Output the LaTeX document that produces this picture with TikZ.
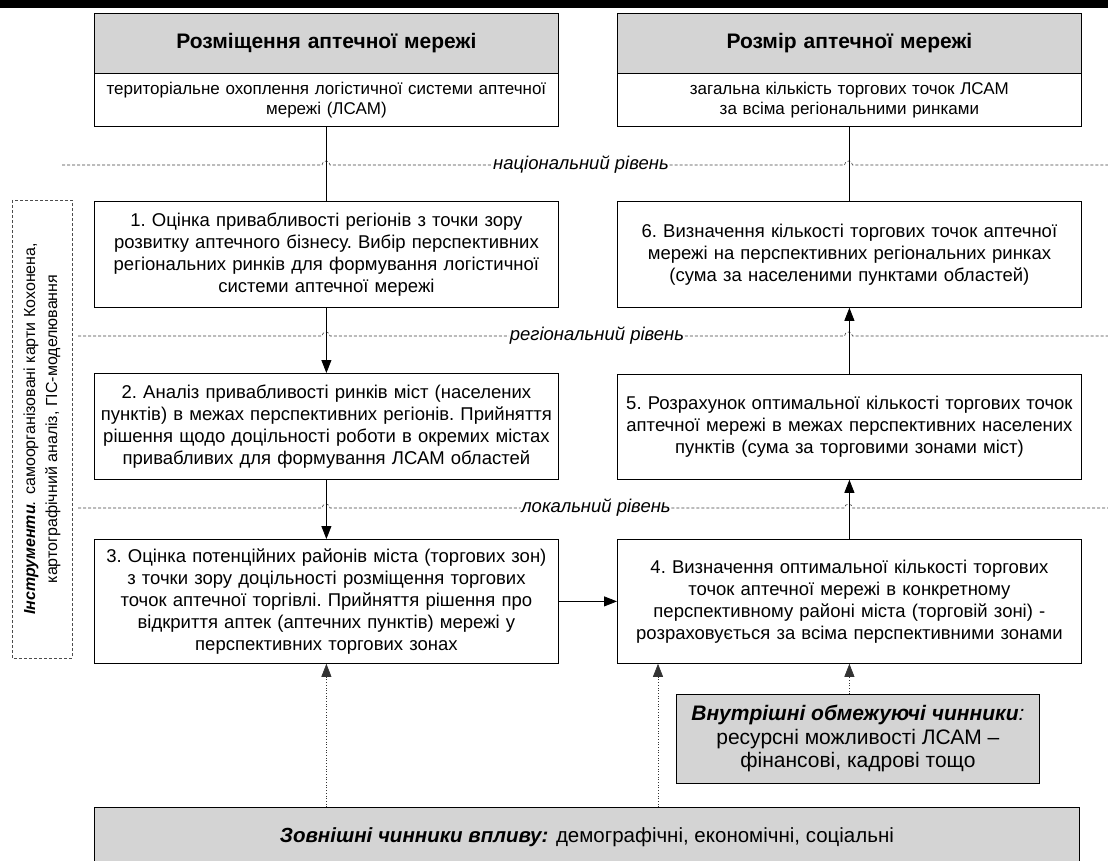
\documentclass[tikz,border=0pt]{standalone}
\usepackage{fontspec}
\setmainfont{Liberation Sans}
\usetikzlibrary{arrows.meta,calc}
\tikzset{
  stepbox/.style={draw, line width=0.8pt, fill=white, minimum width=464pt, align=center,
    text width=462pt, inner sep=0pt, anchor=north west, font=\fontsize{18.5}{22}\selectfont\frenchspacing},
  hdrbox/.style={stepbox, fill=black!17, font=\fontsize{21}{24}\selectfont\bfseries},
  subbox/.style={stepbox, font=\fontsize{17}{19.5}\selectfont},
  greybox/.style={draw, line width=0.8pt, fill=black!17, align=center, inner sep=0pt, anchor=north west,
    font=\fontsize{19.5}{22.5}\selectfont},
  lvl/.style={dash pattern=on 3pt off 2pt, black!75, line width=0.6pt},
  lvllab/.style={font=\fontsize{18.5}{20}\selectfont\itshape, inner sep=0.5pt},
  conn/.style={line width=0.8pt},
  arr/.style={line width=0.8pt, -{Triangle[length=13pt,width=10pt]}},
  dotarr/.style={dotted, black!80, line width=0.7pt, -{Triangle[length=13pt,width=10pt]}},
}
\begin{document}
\begin{tikzpicture}[x=1pt,y=-1pt]
\useasboundingbox (0,0) rectangle (1108,861);
\fill[black] (0,0) rectangle (1108,8);

% headers
\node[hdrbox, minimum height=60pt] (hL) at (94,13) {Розміщення аптечної мережі};
\node[subbox, minimum height=53pt] (sL) at (94,73) {територіальне охоплення логістичної системи аптечної\\мережі (ЛСАМ)};
\node[hdrbox, minimum height=60pt] (hR) at (617,13) {Розмір аптечної мережі};
\node[subbox, minimum height=53pt] (sR) at (617,73) {загальна кількість торгових точок ЛСАМ\\за всіма регіональними ринками};

% steps
\node[stepbox, minimum height=106pt] (b1) at (94,201) {1. Оцінка привабливості регіонів з точки зору\\розвитку аптечного бізнесу. Вибір перспективних\\регіональних ринків для формування логістичної\\системи аптечної мережі};
\node[stepbox, minimum height=106pt] (b6) at (617,201) {6. Визначення кількості торгових точок аптечної\\мережі на перспективних регіональних ринках\\(сума за населеними пунктами областей)};
\node[stepbox, minimum height=106pt] (b2) at (94,373) {2. Аналіз привабливості ринків міст (населених\\пунктів) в межах перспективних регіонів. Прийняття\\рішення щодо доцільності роботи в окремих містах\\привабливих для формування ЛСАМ областей};
\node[stepbox, minimum height=105pt] (b5) at (617,374) {5. Розрахунок оптимальної кількості торгових точок\\аптечної мережі в межах перспективних населених\\пунктів (сума за торговими зонами міст)};
\node[stepbox, minimum height=124pt] (b3) at (94,539) {3. Оцінка потенційних районів міста (торгових зон)\\з точки зору доцільності розміщення торгових\\точок аптечної торгівлі. Прийняття рішення про\\відкриття аптек (аптечних пунктів) мережі у\\перспективних торгових зонах};
\node[stepbox, minimum height=124pt] (b4) at (617,539) {4. Визначення оптимальної кількості торгових\\точок аптечної мережі в конкретному\\перспективному районі міста (торговій зоні) -\\розраховується за всіма перспективними зонами};

% factor boxes
\node[greybox, minimum width=363pt, minimum height=89pt, font=\fontsize{21}{23.5}\selectfont] (int) at (676,694) {\textbf{\textit{Внутрішні обмежуючі чинники}}\textit{:}\\ресурсні можливості ЛСАМ –\\фінансові, кадрові тощо};
\node[greybox, minimum width=985pt, minimum height=60pt, font=\fontsize{20.5}{22}\selectfont] (ext) at (94,807) {\textbf{\textit{Зовнішні чинники впливу:}} демографічні, економічні, соціальні};

% tools box
\node[draw, densely dashed, line width=0.6pt, black!70, text=black, rotate=90, minimum width=458pt, minimum height=60pt,
  align=center, inner sep=0pt, font=\fontsize{16}{22}\selectfont] (tools) at (42,429)
  {\textbf{\textit{Інструменти}}\textit{.} самоорганізовані карти Кохонена,\\картографічний аналіз, ГІС-моделювання};

% level lines
\node[lvllab] (nat) at (581,165) {національний рівень};
\node[lvllab] (reg) at (597,336) {регіональний рівень};
\node[lvllab] (loc) at (596,508) {локальний рівень};
\draw[lvl] (62,165) -- (322,165) arc[start angle=180,end angle=360,radius=4] -- (nat.west);
\draw[lvl] (nat.east) -- (844.5,165) arc[start angle=180,end angle=360,radius=4] -- (1108,165);
\draw[lvl] (78,336) -- (322,336) arc[start angle=180,end angle=360,radius=4] -- (reg.west);
\draw[lvl] (reg.east) -- (844.5,336) arc[start angle=180,end angle=360,radius=4] -- (1108,336);
\draw[lvl] (78,508) -- (322,508) arc[start angle=180,end angle=360,radius=4] -- (loc.west);
\draw[lvl] (loc.east) -- (844.5,508) arc[start angle=180,end angle=360,radius=4] -- (1108,508);

% connectors
\draw[conn] (sL.south) -- (b1.north);
\draw[conn] (sR.south) -- (b6.north);
\draw[arr] (b1.south) -- (b2.north);
\draw[arr] (b2.south) -- (b3.north);
\draw[arr] (b3.east) -- (b4.west);
\draw[arr] (b4.north) -- (b5.south);
\draw[arr] (b5.north) -- (b6.south);

\coordinate (t4) at ($(b4.south west)+(41,0)$);
\draw[dotarr] (ext.north -| b3.south) -- (b3.south);
\draw[dotarr] (ext.north -| t4) -- (t4);
\draw[dotarr] (int.north -| b4.south) -- (b4.south);
\end{tikzpicture}
\end{document}
